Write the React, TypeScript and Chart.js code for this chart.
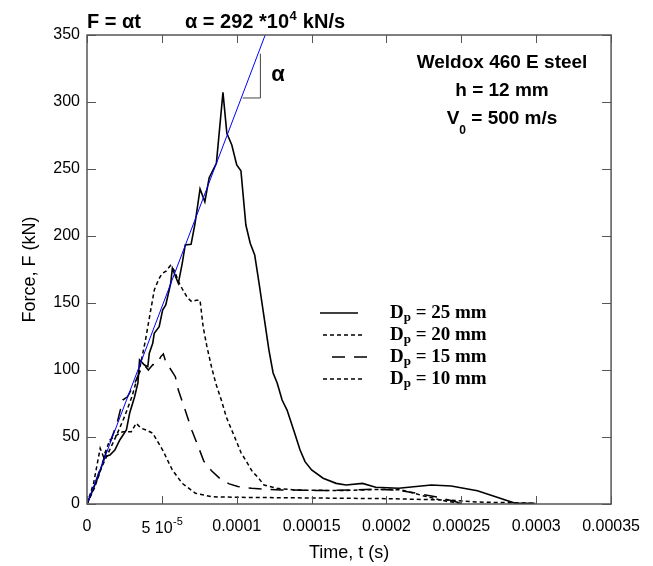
import React, { useEffect, useRef } from "react";
import { Chart, registerables } from "chart.js";
Chart.register(...registerables);

// ---- data (time in microseconds, force in kN) ----
const xTicks = [0, 0.00005, 0.0001, 0.00015, 0.0002, 0.00025, 0.0003, 0.00035];
const xTickLabels = ["0", "", "0.0001", "0.00015", "0.0002", "0.00025", "0.0003", "0.00035"];
const yTicks = [0, 50, 100, 150, 200, 250, 300, 350];

const t25 = [0, 6.6, 12, 15.3, 18.6, 21.9, 26.3, 28.5, 31.8, 34, 35.1, 38.4, 40.6, 41.6, 43.9, 44.9, 48.2, 50.5, 52.6, 55.9, 57, 59.2, 61, 63.6, 65.6, 69.5, 72.2, 75.5, 78.7, 81.6, 84.4, 86.4, 90.8, 93.4, 96.7, 100, 102.8, 106.1, 109, 112, 114.9, 118.2, 121.5, 124.3, 127, 130.3, 133.6, 138, 142.3, 145.6, 150, 157.7, 166.4, 173, 184, 192.8, 208.1, 230, 243.2, 260.7, 273.9, 286, 299];
const f25 = [0, 17.9, 35.3, 36.6, 40.3, 47.8, 55.2, 67.9, 80.1, 90.3, 107.5, 103.7, 102.5, 112.5, 119.9, 127.4, 132.3, 144.8, 148.5, 164.7, 175.9, 169.6, 164.7, 179.6, 193.3, 193.8, 209.7, 235.1, 225.6, 243.5, 249.8, 254.3, 307.2, 276.6, 267.9, 253, 248.7, 208.2, 194.6, 185.8, 164.9, 139.8, 114.9, 97.8, 90.3, 77.6, 70.1, 55.2, 40.3, 31.6, 25.4, 19.2, 15.4, 14.2, 15.4, 12.5, 11.7, 14.2, 13.4, 9.9, 5, 0.5, 0.5];

const t20 = [0, 5, 10, 15, 20, 25, 30, 35, 39, 42.6, 45, 48, 50.2, 53, 55.7, 58.5, 61, 63.4, 67, 69.9, 73, 75.5, 77.6, 80, 83.1, 86, 89.7, 93, 98.5, 103, 107.2, 110.5, 113.8, 118.2, 127, 140, 170, 200, 210, 225, 240, 250];
const f20 = [0, 12, 28, 40, 52, 65, 80, 100, 122, 145, 160, 168, 172, 174, 178, 174, 166, 161, 154, 151, 152, 152, 132, 118, 102.5, 90, 77.6, 65, 50.2, 38, 30.4, 24, 20.4, 14.2, 11.7, 10.4, 10, 11, 10.5, 6, 2, 0.5];

const t15 = [0, 5, 10, 15, 20, 23.9, 27, 31, 35, 38, 41, 44, 45.8, 47.5, 49.3, 51, 52.6, 55, 59, 61, 65.6, 70, 74.3, 78, 83, 89.7, 95, 100.7, 110, 120, 130, 160, 190, 205, 215, 225, 235, 245, 250];
const f15 = [0, 14, 30, 45, 60, 77.6, 80, 88, 98, 104, 100, 104, 103.7, 106, 110, 112, 106, 102, 95, 85, 70, 55, 42.8, 32, 25, 18, 15, 13, 11.7, 11, 10.5, 10, 11, 10.5, 9, 7, 5, 2, 0.5];

const t10 = [0, 4.4, 8.8, 11, 15.3, 21.9, 24.1, 29.6, 32.9, 36.2, 39.5, 43.9, 50.5, 57, 63.6, 72.4, 83.4, 100, 150, 200, 240, 260, 280, 300];
const f10 = [0, 15.4, 41.6, 35.3, 47.8, 52.8, 54, 54, 60.2, 56.5, 55.2, 52.8, 40.3, 25.4, 15.4, 8, 5.4, 5, 4.5, 4, 3, 1.5, 1, 0.5];

const fitT = [0, 119];
const fitF = [0, 350];
const bracketT = [104, 115.8, 115.8];
const bracketF = [303, 303, 336];

const legendLabels = ["25", "20", "15", "10"];

const SANS = "'Liberation Sans', Arial, sans-serif";
const SERIF = "'Liberation Serif', 'Times New Roman', serif";

const pts = (t: number[], f: number[]) => t.map((v, i) => ({ x: v * 1e-6, y: f[i] }));

const DASHES: number[][] = [[], [4, 3], [13, 9], [4, 3]];

const overlay = {
  id: "overlay",
  afterDraw(chart: any) {
    const { ctx, chartArea: a, scales } = chart;
    const xs = scales.x;
    const ys = scales.y;
    ctx.save();
    // frame
    ctx.strokeStyle = "#555";
    ctx.lineWidth = 1.5;
    ctx.setLineDash([]);
    ctx.strokeRect(a.left, a.top, a.right - a.left, a.bottom - a.top);
    // inward ticks
    ctx.lineWidth = 1;
    ctx.beginPath();
    xTicks.forEach((v) => {
      const p = Math.round(xs.getPixelForValue(v)) + 0.5;
      ctx.moveTo(p, a.bottom); ctx.lineTo(p, a.bottom - 8);
      ctx.moveTo(p, a.top); ctx.lineTo(p, a.top + 8);
    });
    yTicks.forEach((v) => {
      const p = Math.round(ys.getPixelForValue(v)) + 0.5;
      ctx.moveTo(a.left, p); ctx.lineTo(a.left + 9, p);
      ctx.moveTo(a.right, p); ctx.lineTo(a.right - 9, p);
    });
    ctx.stroke();

    ctx.fillStyle = "#000";
    ctx.textBaseline = "alphabetic";
    // "5 10-5" tick label
    {
      const px = xs.getPixelForValue(0.00005);
      ctx.font = `16px ${SANS}`;
      const w1 = ctx.measureText("5 10").width;
      ctx.font = `11px ${SANS}`;
      const w2 = ctx.measureText("-5").width;
      const x0 = px - (w1 + w2) / 2;
      ctx.font = `16px ${SANS}`;
      ctx.textAlign = "left";
      ctx.fillText("5 10", x0, 533);
      ctx.font = `11px ${SANS}`;
      ctx.fillText("-5", x0 + w1 + 0.5, 525);
    }

    // title line
    ctx.textAlign = "left";
    ctx.font = `bold 20px ${SANS}`;
    ctx.fillText("F = \u03b1t", 87, 28);
    let x = 185;
    const s1 = "\u03b1 = 292 *10";
    ctx.fillText(s1, x, 28);
    x += ctx.measureText(s1).width;
    ctx.font = `bold 13px ${SANS}`;
    ctx.fillText("4", x + 0.5, 20);
    x += ctx.measureText("4").width + 1;
    ctx.font = `bold 20px ${SANS}`;
    ctx.fillText(" kN/s", x, 28);

    // alpha near bracket
    ctx.font = `bold 22px ${SANS}`;
    ctx.textAlign = "center";
    ctx.textBaseline = "middle";
    ctx.fillText("\u03b1", xs.getPixelForValue(0.0001275), ys.getPixelForValue(320));

    // material annotation
    ctx.textBaseline = "alphabetic";
    const cx = 502;
    ctx.font = `bold 19px ${SANS}`;
    ctx.fillText("Weldox 460 E steel", cx, 68);
    ctx.fillText("h = 12 mm", cx, 96);
    {
      ctx.font = `bold 19px ${SANS}`;
      const wV = ctx.measureText("V").width;
      const rest = " = 500 m/s";
      const wR = ctx.measureText(rest).width;
      ctx.font = `bold 12px ${SANS}`;
      const w0 = ctx.measureText("0").width;
      const x0 = cx - (wV + w0 + wR) / 2;
      ctx.textAlign = "left";
      ctx.font = `bold 19px ${SANS}`;
      ctx.fillText("V", x0, 124);
      ctx.font = `bold 12px ${SANS}`;
      ctx.fillText("0", x0 + wV, 134);
      ctx.font = `bold 19px ${SANS}`;
      ctx.fillText(rest, x0 + wV + w0, 124);
    }

    // legend
    const lineStarts = [320, 323, 332, 323];
    const lineEnds = [358, 365, 368, 365];
    legendLabels.forEach((lab, i) => {
      const base = 318 + i * 22;
      const ly = base - 5;
      ctx.strokeStyle = "#000";
      ctx.lineWidth = 1.5;
      ctx.setLineDash(DASHES[i]);
      ctx.beginPath();
      ctx.moveTo(lineStarts[i], ly);
      ctx.lineTo(lineEnds[i], ly);
      ctx.stroke();
      ctx.setLineDash([]);
      ctx.textAlign = "left";
      ctx.font = `bold 19px ${SERIF}`;
      let tx = 390;
      ctx.fillText("D", tx, base);
      tx += ctx.measureText("D").width;
      ctx.font = `bold 13px ${SERIF}`;
      ctx.fillText("p", tx, base + 3);
      tx += ctx.measureText("p").width;
      ctx.font = `bold 19px ${SERIF}`;
      ctx.fillText(` = ${lab} mm`, tx, base);
    });
    ctx.restore();
  },
};

export default function App() {
  const ref = useRef<HTMLCanvasElement | null>(null);
  useEffect(() => {
    document.body.style.margin = "0";
    const canvas = ref.current!;
    const chart = new Chart(canvas, {
      type: "line",
      data: {
        datasets: [
          { data: pts(fitT, fitF), borderColor: "#0000ff", borderWidth: 1, pointRadius: 0 },
          { data: pts(bracketT, bracketF), borderColor: "#444", borderWidth: 1, pointRadius: 0 },
          { data: pts(t25, f25), borderColor: "#000", borderWidth: 1.6, pointRadius: 0 },
          { data: pts(t20, f20), borderColor: "#000", borderWidth: 1.5, borderDash: DASHES[1], pointRadius: 0 },
          { data: pts(t15, f15), borderColor: "#000", borderWidth: 1.5, borderDash: DASHES[2], pointRadius: 0 },
          { data: pts(t10, f10), borderColor: "#000", borderWidth: 1.5, borderDash: DASHES[3], pointRadius: 0 },
        ],
      },
      options: {
        animation: false,
        responsive: false,
        devicePixelRatio: 1,
        layout: { padding: { left: 0, right: 34, top: 35, bottom: 0 } },
        plugins: { legend: { display: false }, tooltip: { enabled: false } },
        elements: { line: { tension: 0, fill: false } },
        scales: {
          x: {
            type: "linear",
            min: 0,
            max: 0.00035,
            afterBuildTicks: (s: any) => { s.ticks = xTicks.map((v) => ({ value: v })); },
            afterFit: (s: any) => { s.height = 62; },
            grid: { display: false, drawTicks: false },
            border: { display: false },
            ticks: {
              padding: 13,
              color: "#000",
              font: { family: SANS, size: 16 },
              maxRotation: 0,
              autoSkip: false,
              callback: (_v: any, i: number) => xTickLabels[i],
            },
            title: {
              display: true,
              text: "Time, t (s)",
              color: "#000",
              font: { family: SANS, size: 18 },
              padding: { top: 0, bottom: 2 },
            },
          },
          y: {
            type: "linear",
            min: 0,
            max: 350,
            afterBuildTicks: (s: any) => { s.ticks = yTicks.map((v) => ({ value: v })); },
            afterFit: (s: any) => { s.width = 87; },
            grid: { display: false, drawTicks: false },
            border: { display: false },
            ticks: {
              padding: 7,
              color: "#000",
              font: { family: SANS, size: 16 },
            },
            title: {
              display: true,
              text: "Force, F (kN)",
              color: "#000",
              font: { family: SANS, size: 18 },
              padding: { top: 19, bottom: 0 },
            },
          },
        },
      },
      plugins: [overlay],
    });
    return () => chart.destroy();
  }, []);
  return (
    <div style={{ width: 653, height: 566 }}>
      <canvas ref={ref} width={653} height={566} style={{ display: "block" }} />
    </div>
  );
}
